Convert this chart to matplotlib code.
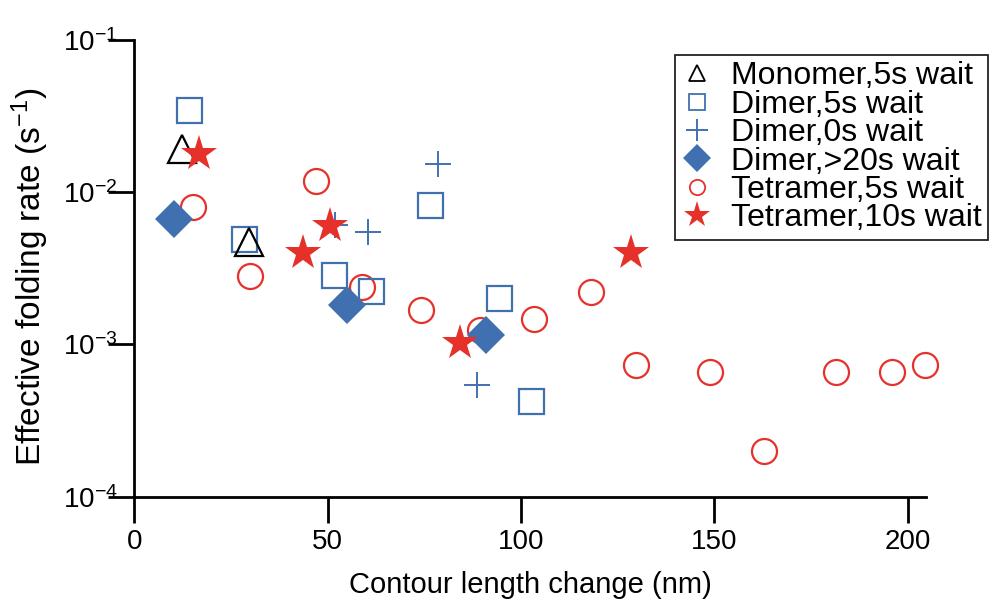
import matplotlib
matplotlib.use("Agg")
import matplotlib.pyplot as plt
from matplotlib.lines import Line2D
from matplotlib.ticker import FixedLocator, FixedFormatter

plt.rcParams['font.family'] = ['Liberation Sans', 'DejaVu Sans']
plt.rcParams['mathtext.fontset'] = 'custom'
plt.rcParams['mathtext.rm'] = 'Liberation Sans'
plt.rcParams['mathtext.it'] = 'Liberation Sans'

# data
mono5_x = [12.2, 29.6]
mono5_y = [0.0192, 0.00474]

dim5_x = [14.2, 28.3, 51.7, 61.3, 76.4, 94.4, 102.6]
dim5_y = [0.0347, 0.00491, 0.00286, 0.00226, 0.00822, 0.00203, 0.000427]

dim0_x = [78.6, 51.8, 60.4, 88.7]
dim0_y = [0.0153, 0.0061, 0.00551, 0.00054]

dim20_x = [10.2, 54.9, 90.8]
dim20_y = [0.00665, 0.00182, 0.00116]

tet5_x = [15.2, 29.8, 46.9, 58.8, 74.1, 89.3, 103.3, 118.2, 129.8,
          148.8, 162.8, 181.5, 196.0, 204.5]
tet5_y = [0.00805, 0.00282, 0.0119, 0.0024, 0.00169, 0.00124, 0.00147,
          0.0022, 0.000735, 0.000664, 0.0002, 0.000664, 0.000664, 0.000735]

tet10_x = [16.7, 43.7, 50.5, 84.3, 128.3]
tet10_y = [0.0178, 0.00397, 0.00604, 0.00102, 0.0040]

labels = ["Monomer,5s wait", "Dimer,5s wait", "Dimer,0s wait",
          "Dimer,>20s wait", "Tetramer,5s wait", "Tetramer,10s wait"]

blue = "#4170b0"
red = "#e5312a"

fig = plt.figure(figsize=(9.95, 6.04), dpi=100)
ax = fig.add_axes([0.135, 0.1777, 0.7957, 0.7561])

ax.plot(tet5_x, tet5_y, 'o', ms=18, mfc='none', mec=red, mew=1.6, zorder=2, clip_on=False)
ax.plot(dim5_x, dim5_y, 's', ms=18, mfc='none', mec=blue, mew=1.6, zorder=3, clip_on=False)
ax.plot(mono5_x, mono5_y, '^', ms=20, mfc='none', mec='black', mew=1.6, zorder=4, clip_on=False)
ax.plot(dim0_x, dim0_y, '+', ms=19, mec=blue, mew=1.4, zorder=4, clip_on=False)
ax.plot(dim20_x, dim20_y, 'D', ms=19, mfc=blue, mec=blue, mew=0, zorder=5, clip_on=False)
ax.plot(tet10_x, tet10_y, '*', ms=27, mfc=red, mec=red, mew=0, zorder=6, clip_on=False)

ax.set_yscale('log')
ax.set_xlim(0, 204.7)
ax.set_ylim(1e-4, 1e-1)
ax.xaxis.set_major_locator(FixedLocator([0, 50, 100, 150, 200]))
ax.yaxis.set_major_locator(FixedLocator([1e-4, 1e-3, 1e-2, 1e-1]))
ax.yaxis.set_minor_locator(FixedLocator([]))
ax.yaxis.set_major_formatter(FixedFormatter(
    [r'10$^{-4}$', r'10$^{-3}$', r'10$^{-2}$', r'10$^{-1}$']))

for s in ['top', 'right']:
    ax.spines[s].set_visible(False)
for s in ['left', 'bottom']:
    ax.spines[s].set_linewidth(2)
ax.tick_params(axis='both', which='major', direction='out', length=19,
               width=2, labelsize=20, pad=4)
ax.tick_params(axis='y', pad=-7)

ax.set_xlabel("Contour length change (nm)", fontsize=21, labelpad=12)
ax.set_ylabel(r"Effective folding rate (s$^{-1}$)", fontsize=24)
ax.yaxis.set_label_coords(-0.105, 0.481)

handles = [
    Line2D([], [], ls='none', marker='^', ms=11, mfc='none', mec='black', mew=1.3),
    Line2D([], [], ls='none', marker='s', ms=11, mfc='none', mec=blue, mew=1.3),
    Line2D([], [], ls='none', marker='+', ms=16, mec=blue, mew=1.4),
    Line2D([], [], ls='none', marker='D', ms=14, mfc=blue, mec=blue, mew=0),
    Line2D([], [], ls='none', marker='o', ms=11, mfc='none', mec=red, mew=1.3),
    Line2D([], [], ls='none', marker='*', ms=20, mfc=red, mec=red, mew=0),
]
leg = fig.legend(handles, labels, loc='upper right',
                 bbox_to_anchor=(0.993, 0.909), fontsize=23,
                 frameon=True, fancybox=False, edgecolor='#222222',
                 framealpha=1, borderpad=0.2, labelspacing=-0.05,
                 handlelength=1.0, handletextpad=0.55, borderaxespad=0)
leg.get_frame().set_linewidth(1.3)

fig.savefig("out.png", dpi=100)
